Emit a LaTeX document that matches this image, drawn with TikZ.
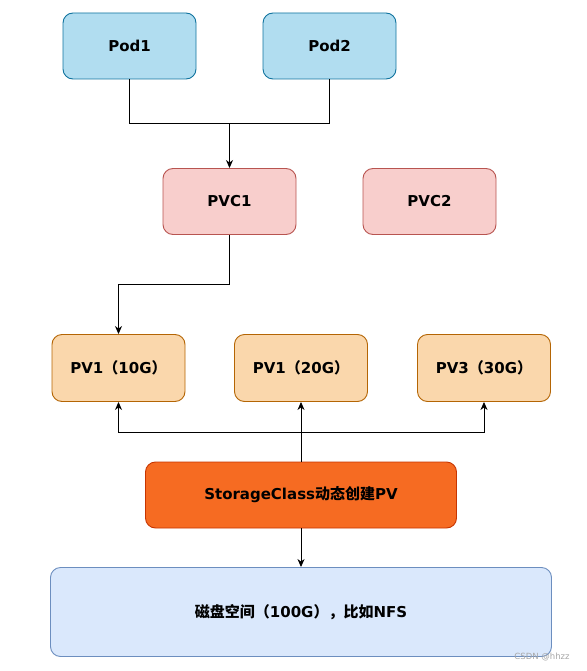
\documentclass[tikz,border=0pt]{standalone}
\usepackage{fontspec}
\setmainfont{DejaVu Sans}
\newfontfamily\cjk{Noto Sans CJK SC}
\usepackage{tikz}
\usetikzlibrary{arrows.meta}
\usetikzlibrary{calc}

\definecolor{podfill}{HTML}{B1DDF0}
\definecolor{podline}{HTML}{10739E}
\definecolor{pvcfill}{HTML}{F8CECC}
\definecolor{pvcline}{HTML}{B85450}
\definecolor{pvfill}{HTML}{FAD7AC}
\definecolor{pvline}{HTML}{B46504}
\definecolor{scfill}{HTML}{F66B22}
\definecolor{scline}{HTML}{C73500}
\definecolor{diskfill}{HTML}{DAE8FC}
\definecolor{diskline}{HTML}{6C8EBF}

\begin{document}
\begin{tikzpicture}[->, >={Stealth[length=8pt, width=7pt, inset=2.5pt]}, x=1pt, y=-1pt, line width=0.9pt, node distance=200pt]
    \tikzstyle{box}=[rectangle, rounded corners=10pt, draw, line width=0.9pt, text=black,
      minimum width=133pt, minimum height=66pt, font=\fontsize{15}{18}\selectfont\bfseries]
    \tikzstyle{pod}=[box, fill=podfill, draw=podline]
    \tikzstyle{pvc}=[box, fill=pvcfill, draw=pvcline]
    \tikzstyle{pv}=[box, fill=pvfill, draw=pvline, minimum height=67pt]
    \tikzstyle{sc}=[box, fill=scfill, draw=scline, minimum width=311pt]
    \tikzstyle{disk}=[box, fill=diskfill, draw=diskline, minimum width=501pt, minimum height=89pt]
    \useasboundingbox (0,0) rectangle (586,671);
    \node[pod]    (pod1) at (129.5,46)	{Pod1};
    \node[pod]    (pod2) [right of=pod1]	{Pod2};
    \node[pvc]    (pvc1) at (229.5,201.5)	{PVC1};
    \node[pvc]    (pvc2) [right of=pvc1]	{PVC2};
    \node[pv]     (pv1) at (118.5,368)	{PV1{\cjk （}10G{\cjk ）}};
    \node[pv]     (pv2) [right of=pv1, node distance=182.5pt]	{PV1{\cjk （}20G{\cjk ）}};
    \node[pv]     (pv3) [right of=pv2, node distance=183pt]	{PV3{\cjk （}30G{\cjk ）}};
    \node[sc]     (sc) at (301,495)	{StorageClass{\cjk 动态创建}PV};
    \node[disk]   (disk) at (301,612)	{{\cjk 磁盘空间（}100G{\cjk ），比如}NFS};
    \node[text=black!35, font=\fontsize{8.5}{10}\selectfont] (mark) at (542,657) {CSDN @hhzz};
    % bends of the connectors
    \coordinate (podjoin) at (229.5,123.5);
    \coordinate (pvcbend) at (118.5,284.5);
    \coordinate (scbend) at (301,432);
    \draw[-] (pod1.south) |- (podjoin);
    \draw[-] (pod2.south) |- (podjoin);
    \draw (podjoin) -- (pvc1.north);
    \draw (pvc1.south) |- (pvcbend) -- (pv1.north);
    \draw (sc.north) -- (pv2.south);
    \draw (scbend) -| (pv1.south);
    \draw (scbend) -| (pv3.south);
    \draw (sc.south) -- (disk.north);
\end{tikzpicture}
\end{document}
